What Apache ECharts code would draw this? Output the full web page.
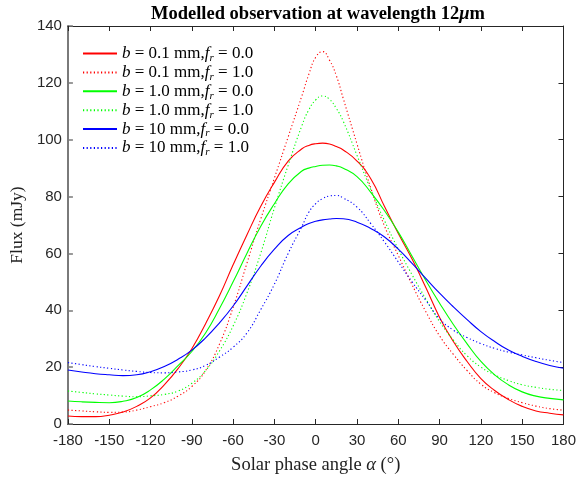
<!DOCTYPE html>
<html>
<head>
<meta charset="utf-8">
<script src="https://cdn.jsdelivr.net/npm/echarts@6/dist/echarts.min.js"></script>
<style>html,body{margin:0;padding:0;background:#fff}#c{width:579px;height:481px}</style>
</head>
<body>
<div id="c"></div>
<script>
// Solar phase angle (deg)
const angles = [-180,-170,-160,-150,-140,-130,-120,-110,-100,-90,-80,-70,-60,-50,-40,-30,-20,-10,-5,0,5,10,15,20,30,40,50,60,70,80,90,100,110,120,130,140,150,160,170,180];
// b = 0.1 mm, fr = 0.0
const b01_f0 = [2.8,2.6,2.6,3.1,4.2,6.2,9.2,13.8,19.5,26.5,35.3,45,56,66.5,76.5,85,92.5,96.8,98,98.6,98.8,98.5,97.6,96.4,92.5,86.3,76.5,67,58,48,37.5,29,22,16,11.8,8.6,6.2,4.6,3.8,3.2];
// b = 0.1 mm, fr = 1.0
const b01_f1 = [4.9,4.6,4.3,4.1,4.2,4.9,6.1,7.5,9.8,13.2,18.8,28,41,56.5,72,86.5,101,115.5,123,129,131,128,122.5,114.5,98.5,83,69.6,59.3,49,39.5,31,24.5,18.8,14,11,9,7.5,6.3,5.4,4.9];
// b = 1.0 mm, fr = 0.0
const b10_f0 = [8.1,7.8,7.6,7.5,8.0,9.3,12,15.8,20.5,25.5,32,40.5,50,60,69.5,77.5,84.5,89,90,90.6,91,91.1,90.8,90,87,81.5,75,67.5,59,50.5,42.5,35,28.2,22,17.3,13.8,11.3,9.8,9,8.5];
// b = 1.0 mm, fr = 1.0
const b10_f1 = [11.6,11.1,10.6,10.2,9.8,9.6,9.9,10.4,11.6,14.3,18.8,25.6,34.5,46,60,76,91,105,110.5,114,115.4,114.2,111,106.5,94.5,82.5,71.5,61.5,52.5,44,36,29.5,24,20,17.3,15.3,13.8,12.9,12.2,11.8];
// b = 10 mm, fr = 0.0
const b100_f0 = [19,18.3,17.7,17.3,17,17.3,18.4,20.2,22.8,26,30.3,35.5,41.5,48.5,55.5,61.5,66.3,69.3,70.5,71.3,71.8,72.1,72.3,72.2,71,68.8,65.8,61.5,56.5,51.2,46,41.2,36.7,32.5,29,26,23.8,22,20.6,19.6];
// b = 10 mm, fr = 1.0
const b100_f1 = [21.6,20.9,20.2,19.6,19.0,18.5,18.1,18.0,18.3,19,20.6,23.5,27,32,40.2,49.2,60,69.5,74.5,77.5,79.3,80.2,80.4,79.5,76.3,70.5,64,57,50,43.5,37,33,30.4,28.3,26.6,25.3,24.3,23.3,22.4,21.6];

const seriesNames = ['b01f0','b01f1','b10f0','b10f1','b100f0','b100f1'];
const legendLabels = {
  b01f0: '{i|b} = 0.1 mm,{i|f}{s|r} = 0.0',
  b01f1: '{i|b} = 0.1 mm,{i|f}{s|r} = 1.0',
  b10f0: '{i|b} = 1.0 mm,{i|f}{s|r} = 0.0',
  b10f1: '{i|b} = 1.0 mm,{i|f}{s|r} = 1.0',
  b100f0: '{i|b} = 10 mm,{i|f}{s|r} = 0.0',
  b100f1: '{i|b} = 10 mm,{i|f}{s|r} = 1.0'
};
const seriesData = [b01_f0,b01_f1,b10_f0,b10_f1,b100_f0,b100_f1];
const colors = ['#ff0000','#ff0000','#00ff00','#00ff00','#0000ff','#0000ff'];
const dotted = [false,true,false,true,false,true];

const chart = echarts.init(document.getElementById('c'), null, {renderer:'canvas'});
const serif = 'Liberation Serif';
const sans = 'Liberation Sans';

const series = seriesNames.map((n, k) => ({
  name: n,
  type: 'line',
  smooth: true,
  showSymbol: false,
  symbol: 'none',
  data: angles.map((a, i) => [a, seriesData[k][i]]),
  lineStyle: {color: colors[k], width: 1.1, type: dotted[k] ? [1.2, 2.4] : 'solid'},
  itemStyle: {color: colors[k]},
  emphasis: {disabled: true},
  z: 3
}));

const option = {
  animation: false,
  backgroundColor: '#fff',
  title: {
    text: 'Modelled observation at wavelength 12{m|μ}m',
    left: 313, top: 0, textAlign: 'center',
    textStyle: {
      fontFamily: serif, fontWeight: 'bold', fontSize: 18.5, color: '#000',
      rich: {m: {fontFamily: serif, fontStyle: 'italic', fontWeight: 'bold', fontSize: 18.5, color: '#000'}}
    }
  },
  grid: {left: 57, right: 13, top: 26, bottom: 57, containLabel: false},
  legend: {
    orient: 'vertical', left: 82, top: 45, padding: 0,
    itemWidth: 34, itemHeight: 14, itemGap: 0.4,
    data: seriesNames,
    selectedMode: false,
    itemStyle: {opacity: 0},
    formatter: n => legendLabels[n],
    textStyle: {
      fontFamily: serif, fontSize: 17, color: '#000',
      rich: {
        i: {fontFamily: serif, fontStyle: 'italic', fontSize: 17, color: '#000'},
        s: {fontFamily: serif, fontStyle: 'italic', fontSize: 11, color: '#000', padding: [9, 0, 0, 0]}
      }
    }
  },
  xAxis: [{
    type: 'value', min: -180, max: 180, interval: 30, position: 'bottom',
    name: 'Solar phase angle {a|α} (°)', nameLocation: 'middle', nameGap: 32,
    nameTextStyle: {fontFamily: serif, fontSize: 18.5, color: '#222',
      rich: {a: {fontFamily: serif, fontStyle: 'italic', fontSize: 18.5, color: '#222'}}},
    axisLine: {show: true, onZero: false, lineStyle: {color: '#262626', width: 1}},
    axisTick: {show: true, inside: true, length: 5, lineStyle: {color: '#262626'}},
    axisLabel: {fontFamily: sans, fontSize: 15, color: '#262626', margin: 9},
    splitLine: {show: false}
  }, {
    type: 'value', min: -180, max: 180, interval: 30, position: 'top',
    axisLine: {show: true, onZero: false, lineStyle: {color: '#262626', width: 1}},
    axisTick: {show: true, inside: true, length: 5, lineStyle: {color: '#262626'}},
    axisLabel: {show: false}, splitLine: {show: false}
  }],
  yAxis: [{
    type: 'value', min: 0, max: 140, interval: 20, position: 'left',
    name: 'Flux (mJy)', nameLocation: 'middle', nameGap: 33,
    nameTextStyle: {fontFamily: serif, fontSize: 17.5, color: '#222'},
    axisLine: {show: true, onZero: false, lineStyle: {color: '#7a7a7a', width: 2}},
    axisTick: {show: true, inside: true, length: 5, lineStyle: {color: '#7a7a7a', width: 1.5}},
    axisLabel: {fontFamily: sans, fontSize: 15, color: '#262626', margin: 6},
    splitLine: {show: false}
  }, {
    type: 'value', min: 0, max: 140, interval: 20, position: 'right',
    axisLine: {show: true, onZero: false, lineStyle: {color: '#262626', width: 1}},
    axisTick: {show: true, inside: true, length: 5, lineStyle: {color: '#262626'}},
    axisLabel: {show: false}, splitLine: {show: false}
  }],
  series: series
};
chart.setOption(option);
</script>
</body>
</html>
